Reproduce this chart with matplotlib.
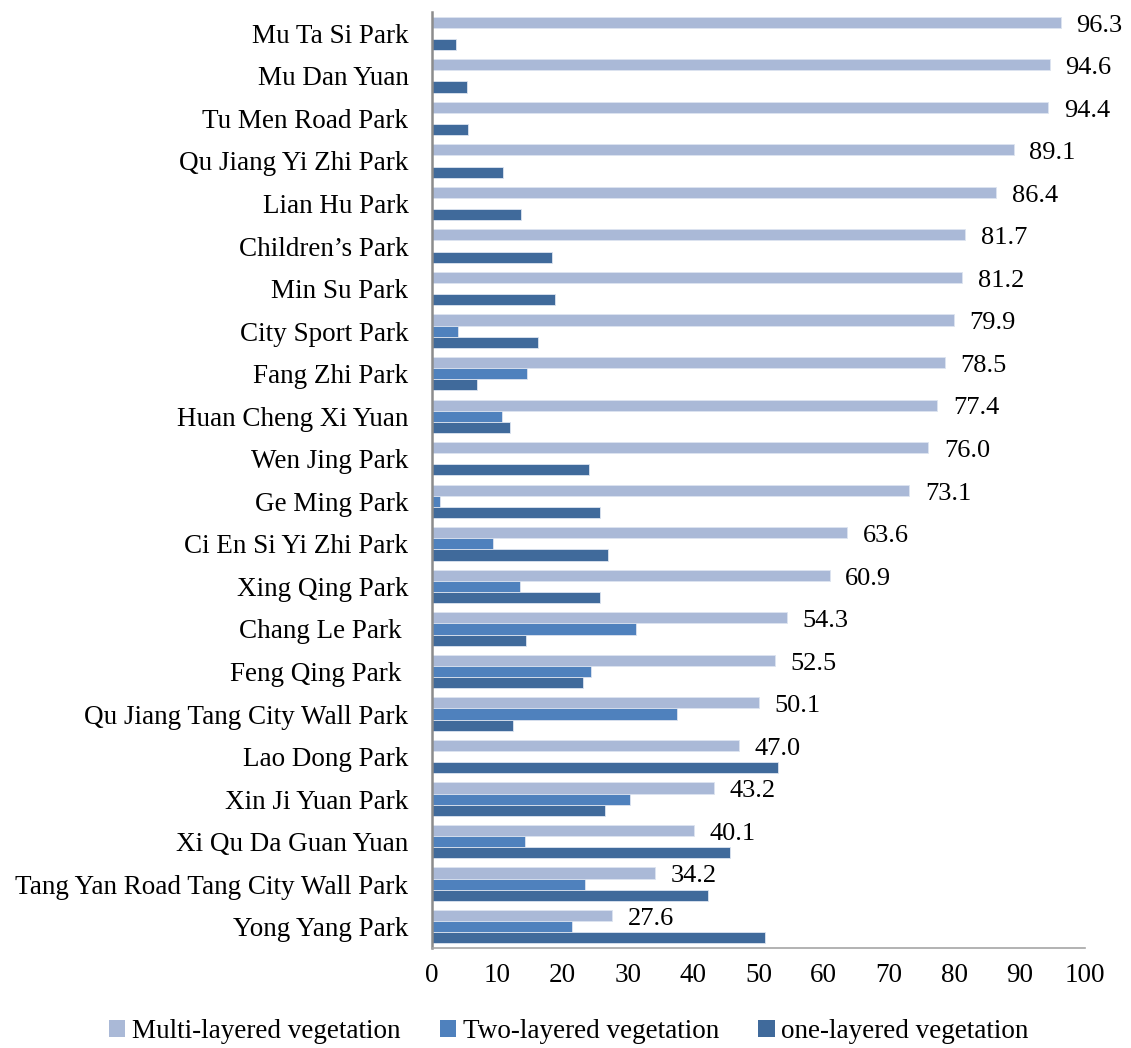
import numpy as np
import matplotlib
matplotlib.use("Agg")
import matplotlib.pyplot as plt
from matplotlib.patches import Patch

plt.rcParams['font.family'] = ['Liberation Serif', 'DejaVu Serif']

parks = ["Mu Ta Si Park", "Mu Dan Yuan", "Tu Men Road Park", "Qu Jiang Yi Zhi Park",
         "Lian Hu Park", "Children\u2019s Park", "Min Su Park", "City Sport Park",
         "Fang Zhi Park", "Huan Cheng Xi Yuan", "Wen Jing Park", "Ge Ming Park",
         "Ci En Si Yi Zhi Park", "Xing Qing Park", "Chang Le Park ", "Feng Qing Park ",
         "Qu Jiang Tang City Wall Park", "Lao Dong Park", "Xin Ji Yuan Park",
         "Xi Qu Da Guan Yuan", "Tang Yan Road Tang City Wall Park", "Yong Yang Park"]

multi = [96.3, 94.6, 94.4, 89.1, 86.4, 81.7, 81.2, 79.9, 78.5, 77.4, 76.0, 73.1,
         63.6, 60.9, 54.3, 52.5, 50.1, 47.0, 43.2, 40.1, 34.2, 27.6]
two = [0.0, 0.0, 0.0, 0.0, 0.0, 0.0, 0.0, 3.9, 14.5, 10.7, 0.0, 1.2,
       9.4, 13.4, 31.3, 24.4, 37.5, 0.0, 30.3, 14.2, 23.5, 21.4]
one = [3.6, 5.3, 5.5, 10.9, 13.6, 18.3, 18.8, 16.2, 6.9, 11.9, 24.0, 25.7,
       27.0, 25.7, 14.4, 23.1, 12.4, 53.0, 26.5, 45.7, 42.3, 51.0]

series_names = ["Multi-layered vegetation", "Two-layered vegetation", "one-layered vegetation"]
colors = ["#aab9d7", "#4f81bd", "#406a9b"]
fs = 19.5

fig = plt.figure(figsize=(11.31, 10.48), dpi=100)
ax = fig.add_axes([0.382, 0.0954, 0.5773, 0.8931])

y = np.arange(len(parks))
h = 0.262
for k, (vals, c) in enumerate(zip([multi, two, one], colors)):
    ax.barh(y + (k - 1) * h, vals, height=h, color=c, edgecolor="#dde4f0", linewidth=0.6)

# value labels for the multi-layered share
for yi, v in zip(y, multi):
    ax.text(v + 2.4, yi - h + 0.08, f"{v:.1f}", va="center", ha="left", fontsize=19)

ax.set_xlim(0, 100)
ax.set_ylim(len(parks) - 0.5, -0.5)
ax.set_xticks(np.arange(0, 101, 10))
ax.set_yticks(y)
ax.set_yticklabels(parks)
ax.tick_params(axis="both", length=0, labelsize=fs)
ax.tick_params(axis="y", pad=17)
ax.tick_params(axis="x", pad=11)

for s in ["top", "right"]:
    ax.spines[s].set_visible(False)
ax.spines["left"].set_color("#8c8c8c")
ax.spines["left"].set_linewidth(1.8)
ax.spines["bottom"].set_color("#a6a6a6")
ax.spines["bottom"].set_linewidth(1.2)

handles = [Patch(facecolor=c, edgecolor="none") for c in colors]
fig.legend(handles, series_names, loc="center", bbox_to_anchor=(0.503, 0.016),
           ncol=3, frameon=False, fontsize=fs, handlelength=0.6, handleheight=0.6,
           handletextpad=0.25, columnspacing=1.45)

fig.savefig("out.png", dpi=100)
